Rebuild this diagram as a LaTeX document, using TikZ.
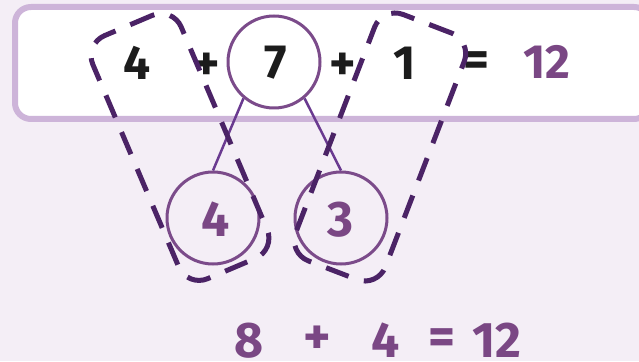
\documentclass[tikz,border=0pt]{standalone}
\usepackage{fontspec}
\setmainfont{Fira Sans}
\definecolor{bgc}{HTML}{F4EEF6}
\definecolor{boxc}{HTML}{CDB4D9}
\definecolor{dashc}{HTML}{4B2366}
\definecolor{circc}{HTML}{7B4B8A}
\definecolor{linec}{HTML}{6A3A90}
\definecolor{purpt}{HTML}{7A4784}
\definecolor{blackt}{HTML}{1C1C1C}
\tikzset{
  numtop/.style={inner sep=0pt, font=\fontsize{48}{48}\selectfont\bfseries, text=blackt},
  optop/.style={inner sep=0pt, font=\fontsize{50}{50}\selectfont\bfseries, text=blackt},
  numbot/.style={inner sep=0pt, font=\fontsize{50}{50}\selectfont\bfseries, text=purpt},
  opbot/.style={inner sep=0pt, font=\fontsize{52}{52}\selectfont\bfseries, text=purpt},
  ringnode/.style={circle, draw=circc, line width=3pt, minimum size=92pt, inner sep=0pt},
  branch/.style={draw=linec, line width=2.5pt},
  dashloop/.style={draw=dashc, line width=5pt, rectangle, rounded corners=22pt,
    minimum width=96pt, minimum height=264pt, dash pattern=on 24pt off 16pt, inner sep=0pt},
}
\begin{document}
\begin{tikzpicture}[x=1pt,y=1pt]
\useasboundingbox (0,0) rectangle (639,361);
\clip (0,0) rectangle (639,361);
\fill[bgc] (0,0) rectangle (639,361);
% top box
\draw[boxc, line width=6pt, fill=white, rounded corners=16pt] (15,354) rectangle (650,242);
% circles
\node[ringnode] (big) at (274,299) {};
\node[ringnode] (cfour) at (213,143) {};
\node[ringnode] (cthree) at (341,143) {};
\draw[branch] (big.230) -- (cfour.north);
\draw[branch] (big.310) -- (cthree.north);
% top equation
\node[numtop] (t4) at (137,298) {4};
\node[optop] (tp1) at (207,294) {+};
\node[numtop] (t7) at (276,298) {7};
\node[optop] (tp2) at (343,294) {+};
\node[numtop] (t1) at (405,298) {1};
\node[optop] (teq) at (476,297) {=};
\node[numtop, text=purpt] (t12) at (547,299) {12};
% circle numbers
\node[numbot] (n4) at (216,141.5) {4};
\node[numbot] (n3) at (340,141.5) {3};
% dashed loops
\node[dashloop, rotate=23] (loopL) at (180,214) {};
\node[dashloop, rotate=-21] (loopR) at (380,214) {};
% bottom equation
\node[numbot] (b8) at (249,20.5) {8};
\node[opbot] (bp) at (317,20.5) {+};
\node[numbot] (b4) at (386,20.5) {4};
\node[opbot] (beq) at (442,19.5) {=};
\node[numbot] (b12) at (497,20.5) {12};
\end{tikzpicture}
\end{document}
